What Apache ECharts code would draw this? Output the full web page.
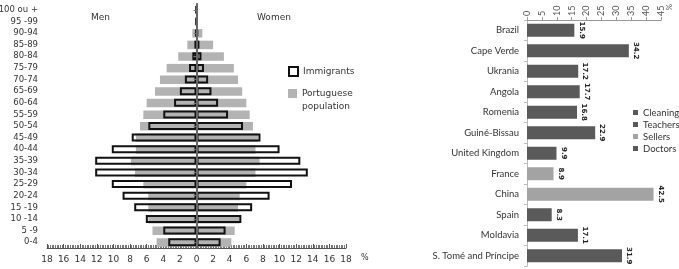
<!DOCTYPE html>
<html>
<head>
<meta charset="utf-8">
<script src="https://cdn.jsdelivr.net/npm/echarts@6/dist/echarts.min.js"></script>
<style>
  html, body { margin: 0; padding: 0; background: #fff; }
  #chart { width: 679px; height: 269px; }
</style>
</head>
<body>
<div id="chart"></div>
<script>
// pyramid data (% of each population, by age group, top to bottom)
const ageGroups = ['100 ou +', '95 -99', '90-94', '85-89', '80-84', '75-79', '70-74', '65-69', '60-64', '55-59', '50-54',
  '45-49', '40-44', '35-39', '30-34', '25-29', '20-24', '15 -19', '10 -14', '5 -9', '0-4']
const menPortuguese = [0.1, 0.1, 0.5, 1.1, 2.2, 3.6, 4.4, 5.0, 6.0, 6.4, 6.8, 7.3, 7.3, 7.9, 7.4, 6.4, 5.8, 5.8, 5.8, 5.3, 4.8]
const menImmigrants = [0.05, 0.05, 0.1, 0.25, 0.5, 0.9, 1.4, 2.0, 2.7, 4.0, 5.8, 7.8, 10.2, 12.2, 12.2, 10.2, 8.9, 7.5, 6.1, 4.0, 3.4]
const womenPortuguese = [0.1, 0.1, 0.7, 2.0, 3.3, 4.5, 5.0, 5.5, 6.0, 6.4, 6.8, 7.4, 7.1, 7.6, 7.1, 6.0, 5.2, 5.0, 5.2, 4.6, 4.2]
const womenImmigrants = [0.05, 0.05, 0.2, 0.35, 0.6, 0.9, 1.4, 1.8, 2.6, 3.8, 5.6, 7.7, 10.0, 12.5, 13.4, 11.5, 8.8, 6.7, 5.4, 3.5, 2.9]

// occupations by country (%)
const countries = ['Brazil', 'Cape Verde', 'Ukrania', 'Angola', 'Romenia', 'Guiné-Bissau', 'United Kingdom',
  'France', 'China', 'Spain', 'Moldavia', 'S. Tomé and Príncipe']
const shares = [15.9, 34.2, 17.2, 17.7, 16.8, 22.9, 9.9, 8.9, 42.5, 8.3, 17.1, 31.9]
const occupations = ['Cleaning', 'Teachers', 'Sellers', 'Doctors']
const countryOccupation = ['Doctors', 'Cleaning', 'Cleaning', 'Cleaning', 'Cleaning', 'Cleaning', 'Doctors',
  'Sellers', 'Sellers', 'Teachers', 'Cleaning', 'Cleaning']

const leftFont = 'DejaVu Sans'
const rightFont = 'Lato'
const grayBar = '#b3b3b3'
const darkBar = '#5a5a5a'
const lightBar = '#a3a3a3'

const pyramidBar = (name, values, sign, isImm) => ({
  name: name,
  type: 'bar',
  xAxisIndex: 0,
  yAxisIndex: 0,
  barWidth: isImm ? 8 : 8.5,
  barGap: '-100%',
  z: isImm ? 3 : 2,
  silent: true,
  data: values.map(v => v * sign),
  itemStyle: isImm
    ? {color: 'rgba(255,255,255,0)', borderColor: '#111', borderWidth: 2}
    : {color: grayBar}
})

const occupationSeries = occupations.map(occ => ({
  name: occ,
  type: 'bar',
  stack: 'share',
  xAxisIndex: 1,
  yAxisIndex: 2,
  barWidth: 13,
  silent: true,
  data: shares.map((v, i) => countryOccupation[i] === occ ? v : '-'),
  itemStyle: {color: occ === 'Sellers' ? lightBar : darkBar},
  label: {
    show: true,
    position: 'right',
    distance: 7,
    rotate: -90,
    align: 'center',
    verticalAlign: 'middle',
    fontSize: 7,
    fontWeight: 'bold',
    fontFamily: 'DejaVu Sans',
    color: '#222'
  }
}))

const option = {
  animation: false,
  textStyle: {fontFamily: leftFont},
  grid: [
    {left: 47, right: 333, top: 4, bottom: 21, outerBoundsMode: 'none'},
    {left: 527, right: 18, top: 20, bottom: 3, outerBoundsMode: 'none'}
  ],
  xAxis: [
    {
      type: 'value', gridIndex: 0, min: -18, max: 18, interval: 2,
      axisLine: {show: true, lineStyle: {color: '#555', width: 1}},
      axisTick: {show: true, inside: true, length: 4, lineStyle: {color: '#555'}},
      minorTick: {show: true, splitNumber: 10, length: 3, lineStyle: {color: '#777'}},
      splitLine: {show: false},
      axisLabel: {
        formatter: v => Math.abs(v), margin: 7, fontSize: 9, color: '#333', fontFamily: leftFont
      }
    },
    {
      type: 'value', gridIndex: 1, position: 'top', min: 0, max: 45, interval: 5,
      axisLine: {show: true, lineStyle: {color: '#999'}},
      axisTick: {show: true, length: 3, lineStyle: {color: '#999'}},
      splitLine: {show: false},
      axisLabel: {rotate: -90, margin: 4, fontSize: 9, color: '#555', fontFamily: rightFont}
    }
  ],
  yAxis: [
    {
      // centre line of the pyramid
      type: 'category', gridIndex: 0, data: ageGroups, inverse: true,
      axisLine: {show: true, onZero: true, lineStyle: {color: '#666', width: 2}},
      axisTick: {show: true, alignWithLabel: true, length: 3, lineStyle: {color: '#777'}},
      axisLabel: {show: false},
      z: 5
    },
    {
      // age labels on the left edge
      type: 'category', gridIndex: 0, data: ageGroups, inverse: true, position: 'left',
      axisLine: {show: false, onZero: false},
      axisTick: {show: false},
      axisLabel: {margin: 9, fontSize: 8.5, color: '#333', fontFamily: leftFont, interval: 0}
    },
    {
      type: 'category', gridIndex: 1, data: countries, inverse: true,
      axisLine: {show: true, lineStyle: {color: '#bbb'}},
      axisTick: {show: true, length: 3, lineStyle: {color: '#bbb'}},
      axisLabel: {margin: 8, fontSize: 9.5, color: '#333', fontFamily: rightFont, interval: 0}
    }
  ],
  legend: [
    {
      data: ['Immigrants'], orient: 'vertical', left: 288, top: 66, padding: 0,
      itemWidth: 9, itemHeight: 9, icon: 'rect',
      textStyle: {fontSize: 9, color: '#333', fontFamily: leftFont}
    },
    {
      data: ['Portuguese population'], orient: 'vertical', left: 288, top: 74, padding: 0,
      itemWidth: 9, itemHeight: 9, icon: 'rect',
      formatter: () => '\nPortuguese\npopulation',
      textStyle: {fontSize: 9, lineHeight: 13, color: '#333', fontFamily: leftFont}
    },
    {
      data: occupations, orient: 'vertical', left: 633, top: 107, padding: 0,
      itemWidth: 5, itemHeight: 5, itemGap: 1, icon: 'rect',
      textStyle: {fontSize: 9.5, lineHeight: 11, color: '#333', fontFamily: rightFont}
    }
  ],
  graphic: [
    {type: 'text', left: 91, top: 13, style: {text: 'Men', fontSize: 9, fill: '#333', fontFamily: leftFont}},
    {type: 'text', left: 257, top: 13, style: {text: 'Women', fontSize: 9, fill: '#333', fontFamily: leftFont}},
    {type: 'text', left: 361, top: 254, style: {text: '%', fontSize: 8, fill: '#333', fontFamily: leftFont}},
    {type: 'text', x: 673, y: 4, rotation: -Math.PI / 2, style: {text: '%', fontSize: 8, fill: '#555', fontFamily: rightFont}}
  ],
  series: [
    pyramidBar('Portuguese population', menPortuguese, -1, false),
    pyramidBar('Portuguese population', womenPortuguese, 1, false),
    pyramidBar('Immigrants', menImmigrants, -1, true),
    pyramidBar('Immigrants', womenImmigrants, 1, true),
    ...occupationSeries
  ]
}

const chart = echarts.init(document.getElementById('chart'))
chart.setOption(option)
</script>
</body>
</html>
